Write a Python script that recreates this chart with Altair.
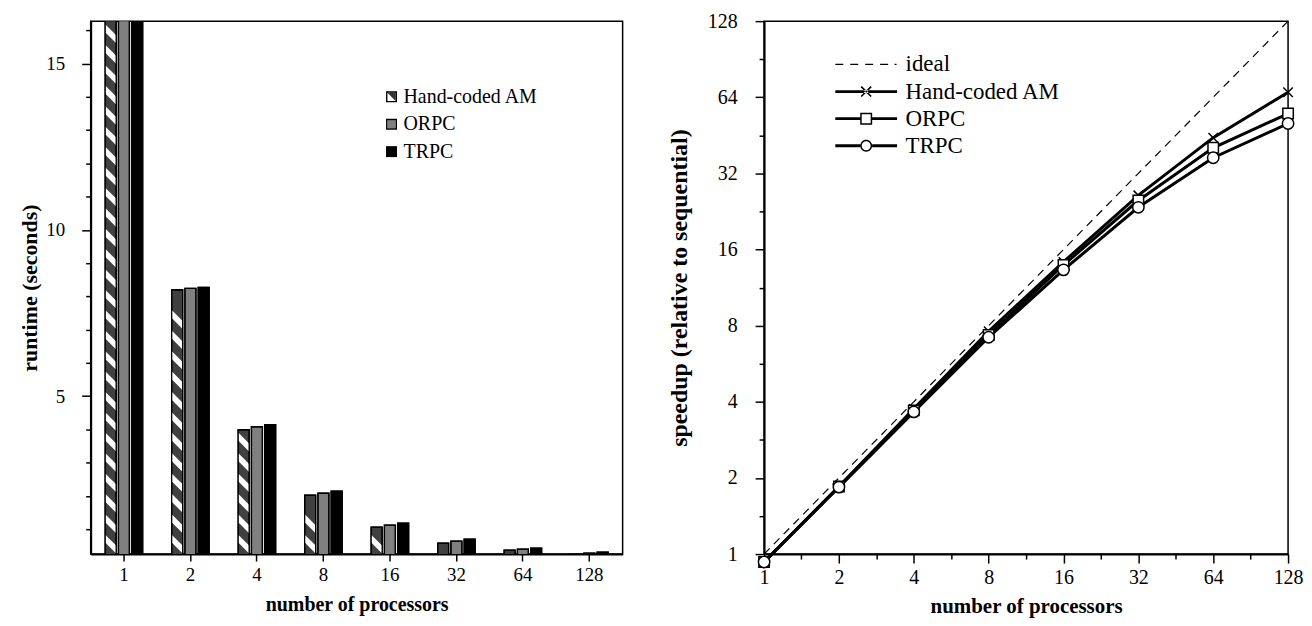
import math
import altair as alt
import pandas as pd

# ---------------- data ----------------
procs = [1, 2, 4, 8, 16, 32, 64, 128]
series = ["Hand-coded AM", "ORPC", "TRPC"]

# runtime (seconds)
rt_hand = [16.5, 8.20, 3.99, 2.02, 1.06, 0.58, 0.37, 0.24]
rt_orpc = [16.6, 8.24, 4.08, 2.08, 1.12, 0.64, 0.40, 0.28]
rt_trpc = [16.7, 8.27, 4.14, 2.14, 1.18, 0.70, 0.43, 0.31]

# speedup
sp_hand = [0.93, 1.85, 3.75, 7.6, 14.3, 26.2, 44.3, 67.0]
sp_orpc = [0.93, 1.85, 3.70, 7.35, 13.9, 25.0, 40.4, 55.2]
sp_trpc = [0.93, 1.84, 3.65, 7.2, 13.3, 23.5, 36.9, 50.4]
sp_ideal = [1, 2, 4, 8, 16, 32, 64, 128]

y_left_ticks = list(range(1, 17))
log_major = [1, 2, 4, 8, 16, 32, 64, 128]
log_minor = [1.41, 2.83, 5.66, 11.3, 22.6, 45.3, 90.5]

FONT = "Liberation Serif"

rt_df = pd.DataFrame(
    [{"P": p, "series": s, "runtime": v}
     for s, vals in zip(series, [rt_hand, rt_orpc, rt_trpc])
     for p, v in zip(procs, vals)]
)
sp_df = pd.DataFrame(
    [{"P": p, "series": s, "speedup": v}
     for s, vals in zip(series, [sp_hand, sp_orpc, sp_trpc])
     for p, v in zip(procs, vals)]
)
ideal_df = pd.DataFrame({"P": procs, "speedup": sp_ideal})
legend_series = ["ideal"] + series
leg_left_df = pd.DataFrame({"series": series})
leg_right_df = pd.DataFrame({"series": legend_series})


# ---------------- symbol paths ----------------
def rect(x0, x1, y0, y1):
    return f"M{x0:.3f},{y0:.3f}L{x1:.3f},{y0:.3f}L{x1:.3f},{y1:.3f}L{x0:.3f},{y1:.3f}Z"


def rect_ccw(x0, x1, y0, y1):
    return f"M{x0:.3f},{y0:.3f}L{x0:.3f},{y1:.3f}L{x1:.3f},{y1:.3f}L{x1:.3f},{y0:.3f}Z"


def circ(cx, r, sweep):
    return (f"M{cx + r:.3f},0A{r:.3f},{r:.3f} 0 1,{sweep} {cx - r:.3f},0"
            f"A{r:.3f},{r:.3f} 0 1,{sweep} {cx + r:.3f},0Z")


def bar_x(cx, arm, h):
    L = arm * math.sqrt(2)
    out = ""
    for ux, uy in [(1, 1), (1, -1)]:
        n = math.sqrt(2)
        ux, uy = ux / n, uy / n
        vx, vy = -uy, ux
        pts = [(cx + L * ux + h * vx, L * uy + h * vy),
               (cx + L * ux - h * vx, L * uy - h * vy),
               (cx - L * ux - h * vx, -L * uy - h * vy),
               (cx - L * ux + h * vx, -L * uy + h * vy)]
        out += "M" + "L".join(f"{x:.3f},{y:.3f}" for x, y in pts) + "Z"
    return out


X0, X1, CX = -1.0, 5.2, 2.1
LT = 0.14
path_ideal = "".join(rect(a, b, -0.06, 0.06) for a, b in
                     [(-1.0, -0.2), (0.5, 1.3), (2.0, 2.8), (3.5, 4.3), (4.95, 5.15)])
path_hand = rect(X0, X1, -LT, LT) + bar_x(CX, 0.5, 0.08)
S, ST = 0.6, 0.15
path_orpc = (rect(X0, CX - S, -LT, LT) + rect(CX + S, X1, -LT, LT)
             + rect(CX - S, CX + S, -S, S) + rect_ccw(CX - S + ST, CX + S - ST, -S + ST, S - ST))
path_trpc = (rect(X0, CX - S, -LT, LT) + rect(CX + S, X1, -LT, LT)
             + circ(CX, S, 1) + circ(CX, S - ST, 0))

EMPTY = "M0,0L0,0Z"
ring = rect(-1, 1, -1, 1) + rect_ccw(-0.75, 0.75, -0.75, 0.75)
left_black = [ring, ring, rect(-1, 1, -1, 1)]
left_gray = [EMPTY, rect(-0.75, 0.75, -0.75, 0.75), EMPTY]
left_dark = ["M-0.75,-0.75L0.75,-0.75L0.75,0.75Z", EMPTY, EMPTY]

stripe_path = "M-1,-1.725L1,0.275L1,1.725L-1,-0.275Z"
x_marker = "M-1,-1L1,1M-1,1L1,-1"

# ---------------- left panel ----------------
xl = alt.X("P:O", sort=procs,
           scale=alt.Scale(type="band", paddingInner=0.436, paddingOuter=0.218),
           axis=alt.Axis(title="number of processors", labelAngle=0, tickSize=7,
                         labelPadding=5, titlePadding=10, labelFontSize=19,
                         titleFontSize=20))
xo = alt.XOffset("series:N", sort=series,
                 scale=alt.Scale(domain=series, paddingInner=0.17, paddingOuter=0))
yl_axis = alt.Axis(title="runtime (seconds)", values=y_left_ticks,
                   labelExpr="datum.value % 5 == 0 ? datum.label : ''",
                   tickSize={"condition": {"test": "datum.value % 5 == 0", "value": 9}, "value": 5},
                   labelPadding=17, titlePadding=4, grid=False, labelFontSize=19,
                   titleFontSize=22)
yl = alt.Y("runtime:Q", scale=alt.Scale(domain=[0.25, 16.28], nice=False, zero=False),
           axis=yl_axis)

bars = alt.Chart(rt_df).mark_bar(clip=True, stroke="black", strokeWidth=1.3).encode(
    x=xl, xOffset=xo, y=yl,
    color=alt.Color("series:N", scale=alt.Scale(domain=series,
                                                range=["#404040", "#808080", "#000000"]),
                    legend=None),
)
stripes = alt.Chart(rt_df).transform_filter(
    "datum.series == 'Hand-coded AM'"
).transform_calculate(
    stripe="sequence(0.55, datum.runtime - 0.29, 0.614)"
).transform_flatten(["stripe"]).transform_calculate(
    runtime="datum.stripe"
).mark_point(shape=stripe_path, size=121, filled=True, fill="white",
             strokeWidth=0, opacity=1, clip=True).encode(x=xl, xOffset=xo, y=yl)
outlines = alt.Chart(rt_df).mark_bar(clip=True, fillOpacity=0, stroke="black",
                                     strokeWidth=1.3).encode(x=xl, xOffset=xo, y=yl)


def left_legend_layer(paths, color, show_labels):
    leg = alt.Legend(orient="none", legendX=292, legendY=66, title=None,
                     labelFont=FONT, labelFontSize=20, labelColor="black",
                     labelOpacity=1 if show_labels else 0,
                     symbolSize=121, rowPadding=7.5, padding=0, labelOffset=2,
                     symbolFillColor=color, symbolStrokeWidth=0, symbolOpacity=1)
    return alt.Chart(leg_left_df).transform_filter("false").mark_point(
        filled=True, fill=color, strokeWidth=0, opacity=1, size=121
    ).encode(
        shape=alt.Shape("series:N", scale=alt.Scale(domain=series, range=paths),
                        legend=leg)
    )


left = alt.layer(
    bars, stripes, outlines,
    left_legend_layer(left_gray, "#808080", False),
    left_legend_layer(left_dark, "#333333", False),
    left_legend_layer(left_black, "#000000", True),
).resolve_scale(shape="independent").properties(width=534, height=535)

# ---------------- right panel ----------------
tick_cond = {"condition": {"test": "indexof([1,2,4,8,16,32,64,128], datum.value) >= 0",
                           "value": 9}, "value": 5}
lab_expr = "indexof([1,2,4,8,16,32,64,128], datum.value) >= 0 ? '' + datum.value : ''"
xr = alt.X("P:Q", scale=alt.Scale(type="log", base=2, domain=[1, 128], nice=False),
           axis=alt.Axis(title="number of processors", values=log_major + log_minor,
                         labelExpr=lab_expr, tickSize=tick_cond, labelPadding=5,
                         titlePadding=8, grid=False, labelFlush=False,
                         labelFontSize=20, titleFontSize=21))
yr = alt.Y("speedup:Q", scale=alt.Scale(type="log", base=2, domain=[1, 128], nice=False),
           axis=alt.Axis(title="speedup (relative to sequential)", values=log_major + log_minor,
                         labelExpr=lab_expr, tickSize=tick_cond, labelPadding=18,
                         titlePadding=16, grid=False, labelFlush=False,
                         labelFontSize=20, titleFontSize=24))

ideal_line = alt.Chart(ideal_df).mark_line(color="black", strokeWidth=1.2,
                                           strokeDash=[8, 6]).encode(x=xr, y=yr)
lines = alt.Chart(sp_df).mark_line(color="black", strokeWidth=3).encode(
    x=xr, y=yr, detail="series:N")
points = alt.Chart(sp_df).mark_point(filled=True, fill="white", stroke="black",
                                     strokeWidth=1.5, opacity=1).encode(
    x=xr, y=yr,
    shape=alt.Shape("series:N", scale=alt.Scale(domain=series,
                                                range=[x_marker, "square", "circle"]),
                    legend=None),
    size=alt.Size("series:N", scale=alt.Scale(domain=series, range=[90, 130, 140]),
                  legend=None),
)
right_legend = alt.Chart(leg_right_df).transform_filter("false").mark_point(
    filled=True, fill="black", strokeWidth=0, opacity=1, size=400
).encode(
    shape=alt.Shape("series:N",
                    scale=alt.Scale(domain=legend_series,
                                    range=[path_ideal, path_hand, path_orpc, path_trpc]),
                    legend=alt.Legend(orient="none", legendX=70, legendY=32, title=None,
                                      labelFont=FONT, labelFontSize=23, labelColor="black",
                                      symbolSize=400, rowPadding=3.2, padding=0,
                                      labelOffset=49, symbolFillColor="black",
                                      symbolStrokeWidth=0, symbolOpacity=1)),
)

right = alt.layer(ideal_line, lines, points, right_legend).resolve_scale(
    shape="independent").properties(width=526, height=535)

chart = alt.hconcat(left, right, spacing=43).properties(
    padding={"left": 10, "top": 1, "right": 0, "bottom": 5}
).configure(font=FONT).configure_view(
    stroke="black", strokeWidth=1.5
).configure_axis(
    labelFont=FONT, labelColor="black",
    titleFont=FONT, titleFontWeight="bold", titleColor="black",
    domainColor="black", domainWidth=2, tickColor="black", tickWidth=1.5,
)

chart.save("out.html", embed_options={"renderer": "svg", "actions": False})
